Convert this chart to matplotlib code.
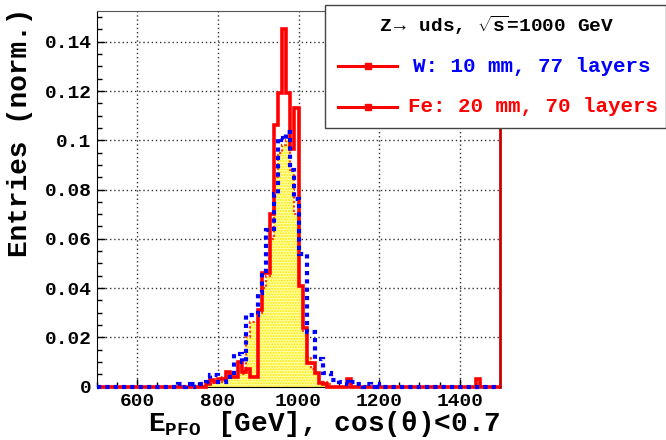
import numpy as np
import matplotlib
matplotlib.use("Agg")
import matplotlib.pyplot as plt
from matplotlib.patches import Rectangle
from matplotlib.lines import Line2D
from matplotlib.ticker import MultipleLocator, FuncFormatter

plt.rcParams['font.family'] = ['Liberation Mono', 'DejaVu Sans']
plt.rcParams['font.weight'] = 'bold'
plt.rcParams['mathtext.fontset'] = 'custom'
plt.rcParams['mathtext.rm'] = 'Liberation Mono:bold'
plt.rcParams['mathtext.bf'] = 'Liberation Mono:bold'
plt.rcParams['mathtext.it'] = 'Liberation Mono:bold'
plt.rcParams['hatch.linewidth'] = 1.0

# histogram binning: 10 GeV bins from 500 to 1500 GeV
edges = np.arange(500, 1510, 10)

# bin contents, for bins starting at 700 GeV ... 1190 GeV
core_start = 700
red_core = [0, 0, 0, 0, 0, 0, 0, 0.001, 0.0026, 0.002,
            0.003, 0.003, 0.006, 0.004, 0.004, 0.010, 0.006, 0.007, 0.004, 0.004,
            0.031, 0.046, 0.046, 0.070, 0.106, 0.119, 0.145, 0.119, 0.0965, 0.113,
            0.041, 0.0236, 0.0097, 0.0097, 0.0056, 0.0015, 0.001, 0, 0, 0,
            0, 0, 0.003, 0, 0, 0, 0, 0, 0, 0]
blue_core = [0.001, 0, 0.001, 0, 0.001, 0.001, 0.001, 0.002, 0.0047, 0.0047,
             0.002, 0.002, 0.004, 0.004, 0.013, 0.013, 0.010, 0.029, 0.029, 0.029,
             0.038, 0.047, 0.0635, 0.064, 0.078, 0.101, 0.100, 0.1035, 0.088, 0.076,
             0.054, 0.054, 0.022, 0.022, 0.011, 0.011, 0.0054, 0.0054, 0.0025, 0.0025,
             0.002, 0.002, 0.001, 0.002, 0.001, 0.001, 0, 0.001, 0, 0.001]
yellow_core = [0, 0, 0, 0, 0, 0, 0.001, 0.001, 0.001, 0.002,
               0.002, 0.004, 0.006, 0.005, 0.004, 0.008, 0.005, 0.020, 0.026, 0.026,
               0.030, 0.040, 0.045, 0.060, 0.085, 0.095, 0.098, 0.100, 0.088, 0.070,
               0.041, 0.022, 0.012, 0.007, 0.005, 0.002, 0.002, 0.001, 0, 0,
               0, 0, 0, 0, 0, 0, 0, 0, 0, 0]
red_extra_bin = 1440
red_extra_val = 0.003

header = r'Z$\rightarrow$ uds, $\sqrt{\mathrm{s}}$=1000 GeV'
labels = ['W: 10 mm, 77 layers', 'Fe: 20 mm, 70 layers']


def full_hist(core):
    h = np.zeros(len(edges) - 1)
    i0 = (core_start - 500) // 10
    h[i0:i0 + len(core)] = core
    return h


red = full_hist(red_core)
red[(red_extra_bin - 500) // 10] = red_extra_val
blue = full_hist(blue_core)
yellow = full_hist(yellow_core)

fig = plt.figure(figsize=(6.66, 4.40), dpi=100)
ax = fig.add_axes([97 / 666, 1 - 386.5 / 440, 403 / 666, 375.5 / 440])

ax.stairs(yellow, edges, fill=True, facecolor='#ffffa8', edgecolor='#ffe800',
          hatch='......', linewidth=0, zorder=2)
ax.stairs(yellow, edges, color='#ff4000', linestyle=(0, (1, 1)), linewidth=1.6, zorder=3)
ax.stairs(red, edges, color='#ff0000', linewidth=2.6, zorder=4, clip_on=False)
ax.stairs(blue, edges, color='#0000ff', linestyle=(0, (1, 1)), linewidth=3.0, zorder=5,
          clip_on=False)

ax.set_xlim(500, 1500)
ax.set_ylim(0, 0.1525)

ax.xaxis.set_major_locator(MultipleLocator(200))
ax.xaxis.set_minor_locator(MultipleLocator(50))
ax.yaxis.set_major_locator(MultipleLocator(0.02))
ax.yaxis.set_minor_locator(MultipleLocator(0.005))
ax.yaxis.set_major_formatter(FuncFormatter(lambda v, p: '0' if abs(v) < 1e-9 else f'{v:g}'))
ax.tick_params(which='both', direction='in', top=False, right=False, labelsize=14)
ax.tick_params(which='major', length=6, width=1)
ax.tick_params(which='minor', length=3.6, width=1)
ax.tick_params(axis='y', pad=4)
ax.tick_params(axis='x', pad=5)
for lab in ax.get_xticklabels() + ax.get_yticklabels():
    lab.set_fontweight('bold')

ax.grid(True, which='major', linestyle=(0, (1, 2)), color='#333333', linewidth=1, zorder=1)
ax.set_axisbelow(True)

ax.spines['left'].set_color('black')
ax.spines['bottom'].set_color('black')
ax.spines['top'].set_color('#555555')
ax.spines['right'].set_color('#cc0000')
ax.spines['right'].set_linewidth(2)

fig.text(500 / 666, 1 - 431 / 440, r'$\mathbf{E}_{\mathbf{PFO}}$ [GeV], cos(θ)<0.7',
         ha='right', va='baseline', fontsize=20, fontweight='bold')
fig.text(20 / 666, 1 - 8 / 440, 'Entries (norm.)', rotation=90, ha='center', va='top',
         fontsize=20, fontweight='bold')

# legend box
fig.patches.append(Rectangle((325 / 666, 1 - 128 / 440), 341 / 666, 123 / 440,
                             transform=fig.transFigure, facecolor='white',
                             edgecolor='#444444', linewidth=1, zorder=10))
fig.text(497 / 666, 1 - 25 / 440, header, ha='center', va='center', fontsize=14,
         fontweight='bold', zorder=11)
entry_y = [66, 107]
entry_x = [413, 408]
entry_colors = ['#0000ff', '#ff0000']
for y, x, lab, c in zip(entry_y, entry_x, labels, entry_colors):
    fig.lines.append(Line2D([338 / 666, 397 / 666], [1 - y / 440, 1 - y / 440],
                            transform=fig.transFigure, color='#ff0000', linewidth=2.2,
                            zorder=11))
    fig.lines.append(Line2D([368 / 666], [1 - y / 440], transform=fig.transFigure,
                            color='#ff0000', marker='s', markersize=5, zorder=12))
    fig.text(x / 666, 1 - y / 440, lab, ha='left', va='center', fontsize=15,
             fontweight='bold', color=c, zorder=11)

fig.savefig('out.png', dpi=100)
